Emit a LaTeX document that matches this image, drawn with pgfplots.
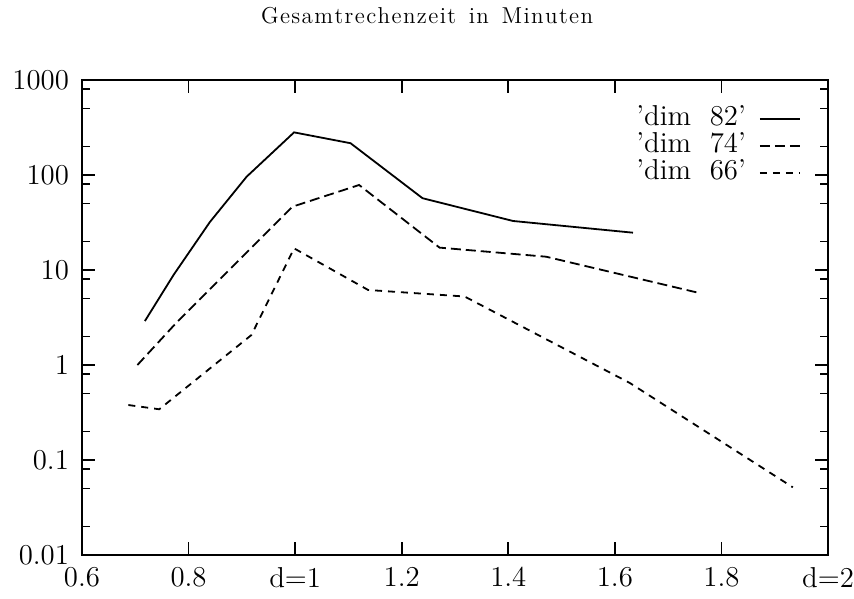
\documentclass[border=0pt]{standalone}
\usepackage{pgfplots}
\pgfplotsset{compat=1.18}
\def\lsp#1{\lspA#1\relax}
\def\lspA#1{\ifx#1\relax\else#1\kern0.7pt\expandafter\lspA\fi}
\begin{document}
\begin{tikzpicture}
\useasboundingbox (-41pt,-21.5pt) rectangle (386pt,277.5pt);
\begin{axis}[
  scale only axis, width=373pt, height=237.5pt,
  at={(0,0)}, anchor=south west,
  ymode=log, xmin=0.6, xmax=2, ymin=0.01, ymax=1000,
  xtick={0.6,0.8,1,1.2,1.4,1.6,1.8,2},
  xticklabels={0.6,0.8,d=1,1.2,1.4,1.6,1.8,d=2},
  ytick={0.01,0.1,1,10,100,1000},
  yticklabels={0.01,0.1,1,10,100,1000},
  minor ytick={0.02,0.05,0.08,0.2,0.5,0.8,2,5,8,20,50,80,200,500,800},
  xminorticks=false,
  tick align=inside,
  major tick length=6.5pt, minor tick length=3.8pt,
  axis line style={line width=0.8pt},
  every tick/.style={black, line width=0.8pt},
  every tick label/.append style={font=\fontsize{14.4}{16}\selectfont},
  xticklabel style={yshift=-2.5pt},
  yticklabel style={xshift=-3pt},
  title={\lsp{Gesamtrechenzeit}\kern5.6pt\lsp{in}\kern5.6pt\lsp{Minuten}},
  title style={at={(axis description cs:0.4635,1.1095)}, anchor=center, font=\fontsize{11.5}{13}\selectfont},
  legend plot pos=right,
  legend cell align=right,
  legend style={draw=none, fill=none, at={(axis description cs:0.972,0.956)}, anchor=north east,
    font=\fontsize{14.4}{16}\selectfont, row sep=0pt, column sep=0pt,
    nodes={inner sep=0pt, text height=10pt, text depth=3.5pt}},
  legend image code/.code={\path (0pt,0pt); \draw[#1] (6.5pt,0pt) -- (26.5pt,0pt);},
]
\addplot[black, line width=0.9pt] coordinates {
(0.718,2.9) (0.772,8.9) (0.840,32) (0.909,96) (0.998,281) (1.104,216) (1.239,57) (1.409,32.8) (1.634,24.7)};
\addlegendentry{'dim~~82'}
\addplot[black, line width=0.9pt, dash pattern=on 5pt off 2.5pt] coordinates {
(0.704,1.0) (0.779,2.86) (0.995,46.4) (1.120,78.5) (1.271,17.2) (1.471,13.8) (1.756,5.77)};
\addlegendentry{'dim~~74'}
\addplot[black, line width=0.9pt, dash pattern=on 3.5pt off 3pt] coordinates {
(0.687,0.379) (0.745,0.342) (0.918,2.07) (0.998,16.9) (1.137,6.16) (1.318,5.26) (1.628,0.647) (1.934,0.0516)};
\addlegendentry{'dim~~66'}
\end{axis}
\end{tikzpicture}
\end{document}
